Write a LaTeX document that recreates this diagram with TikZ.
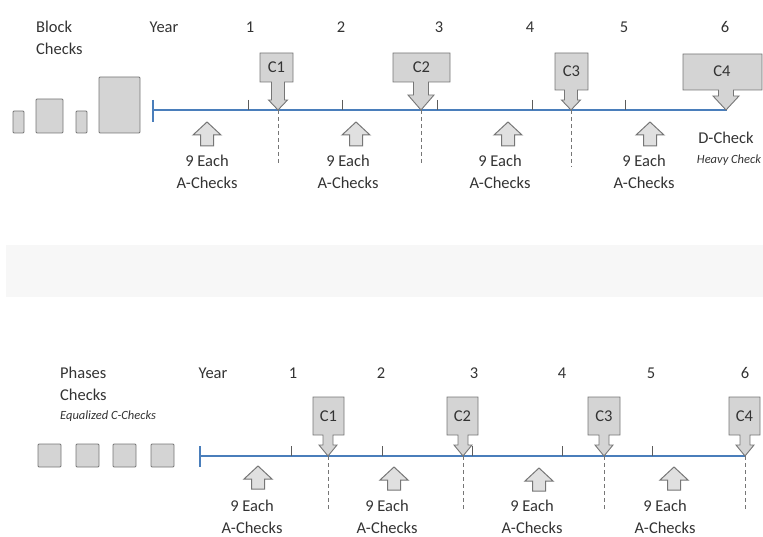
\documentclass[tikz,border=0pt]{standalone}
\usepackage{fontspec}
\setmainfont{Carlito}
\definecolor{tl}{HTML}{4A7EBB}
\definecolor{bfill}{HTML}{D4D4D4}
\definecolor{bdraw}{HTML}{767676}
\definecolor{afill}{HTML}{E0E0E0}
\definecolor{txt}{HTML}{333333}
\definecolor{band}{HTML}{F7F7F7}
\tikzset{
  lbl/.style={inner sep=0pt, anchor=base, text=txt, font=\fontsize{16.5}{19}\selectfont},
  lblw/.style={lbl, anchor=base west},
  small/.style={inner sep=0pt, anchor=base, text=txt, font=\fontsize{12.5}{15}\selectfont\itshape},
  blk/.style={fill=bfill, draw=bdraw, line width=0.9pt, rounded corners=1pt},
  callout/.style={fill=bfill, draw=bdraw, line width=0.9pt, line join=miter},
  uparrow/.style={fill=afill, draw=bdraw, line width=1pt},
  tline/.style={draw=tl, line width=2.4pt},
  tline2/.style={draw=tl, line width=1.9pt},
  ticks/.style={draw=txt!80, line width=1pt},
  vdash/.style={draw=bdraw, line width=0.9pt, dash pattern=on 4pt off 3pt},
}
% #1 left #2 right #3 top #4 bottom #5 tipx #6 tipy #7 shaft half #8 head half #9 head height
\newcommand\calloutpath[9]{%
  \path[callout] (#1,#3) -- (#2,#3) -- (#2,#4) -- ({#5+#7},#4) -- ({#5+#7},{#6-#9})
    -- ({#5+#8},{#6-#9}) -- (#5,#6) -- ({#5-#8},{#6-#9}) -- ({#5-#7},{#6-#9})
    -- ({#5-#7},#4) -- (#1,#4) -- cycle;}
% #1 cx #2 top #3 bottom
\newcommand\uparr[3]{%
  \path[uparrow] (#1,#2) -- ({#1+14},{#2+13}) -- ({#1+6.5},{#2+13}) -- ({#1+6.5},#3)
    -- ({#1-6.5},#3) -- ({#1-6.5},{#2+13}) -- ({#1-14},{#2+13}) -- cycle;}
\begin{document}
\begin{tikzpicture}[x=1pt,y=-1pt]
\useasboundingbox (0,0) rectangle (763,537);
% faint band
\fill[band] (6,245) rectangle (763,297);

%================ TOP ================
\node[lblw] (bc1) at (36,33) {Block};
\node[lblw] (bc2) at (36,55) {Checks};
\node[lbl] (yr1) at (164,33) {Year};
\foreach \x/\n in {250/1,341/2,439/3,530/4,624/5,725/6}
  \node[lbl] (ty\n) at (\x,33) {\n};

% blocks
\draw[blk] (13,111) rectangle (24,133);
\draw[blk] (36,99) rectangle (63,133);
\draw[blk] (76,111) rectangle (87,133);
\draw[blk] (99,77) rectangle (140,133);

% timeline
\coordinate (ts) at (153,110);
\coordinate (te) at (727,110);
\draw[tline] (ts) -- (te);
\draw[tl, line width=1.6pt] (153,100) -- (153,122);
\foreach \x in {248,342,437,532,625}
  \draw[ticks] (\x,100) -- (\x,110);

% callouts
\calloutpath{260}{293}{53}{82}{278}{110}{6.5}{9.5}{10}
\calloutpath{393}{450}{53}{82}{421}{110}{7.5}{13}{15}
\calloutpath{555}{588}{53}{90}{571}{110}{6.5}{9.5}{10}
\calloutpath{683}{762}{54}{90}{726}{110}{7.5}{13}{14}
\node[lbl] (tc1) at (276.5,73) {C1};
\node[lbl] (tc2) at (421.5,73) {C2};
\node[lbl] (tc3) at (571.5,77) {C3};
\node[lbl] (tc4) at (722,77) {C4};

\coordinate (tp1) at (278,110); \coordinate (tq1) at (278,165);
\coordinate (tp2) at (421,110); \coordinate (tq2) at (421,165);
\coordinate (tp3) at (571,110); \coordinate (tq3) at (571,167);
\draw[vdash] (tp1) -- (tq1);
\draw[vdash] (tp2) -- (tq2);
\draw[vdash] (tp3) -- (tq3);

% up arrows and texts
\uparr{207}{122}{146}
\uparr{356}{122}{146}
\uparr{508}{122}{146}
\uparr{650}{122}{146}
\foreach \x [count=\i] in {207,348,500,644}{
  \node[lbl] (tea\i) at (\x,167) {9 Each};
  \node[lbl] (tac\i) at (\x,189) {A-Checks};
}
\node[lbl] (dchk) at (726,144) {D-Check};
\node[small] (hvy) at (729,164) {Heavy Check};

%================ BOTTOM ================
\node[lblw] (ph1) at (60,378) {Phases};
\node[lblw] (ph2) at (60,400) {Checks};
\node[small, anchor=base west] (eq) at (60,419) {Equalized C-Checks};
\node[lbl] (yr2) at (213,378) {Year};
\foreach \x/\n in {293/1,381/2,474/3,562/4,651/5,745/6}
  \node[lbl] (by\n) at (\x,378) {\n};

\foreach \x in {38,76,113,151}
  \draw[blk] (\x,444) rectangle ({\x+23},467);

\coordinate (bs) at (200,456);
\coordinate (be) at (745,456);
\draw[tline2] (bs) -- (be);
\draw[tl, line width=1.4pt] (200,446) -- (200,467);
\foreach \x in {291,382,472,562,652}
  \draw[ticks] (\x,446) -- (\x,456);

\calloutpath{313}{344}{397}{435}{328}{456}{5}{9}{11}
\calloutpath{447}{478}{397}{435}{463}{456}{5}{9}{11}
\calloutpath{588}{620}{397}{435}{604}{456}{5}{9}{11}
\calloutpath{729}{760}{397}{435}{745}{456}{5}{9}{11}
\node[lbl] (bc1n) at (328.5,421) {C1};
\node[lbl] (bc2n) at (462.5,421) {C2};
\node[lbl] (bc3n) at (604,421) {C3};
\node[lbl] (bc4n) at (744.5,421) {C4};

\foreach \x [count=\i] in {328,463,604,745}{
  \coordinate (bp\i) at (\x,456);
  \coordinate (bq\i) at (\x,510);
  \draw[vdash] (bp\i) -- (bq\i);
}

\uparr{258}{466}{489}
\uparr{394}{467}{490}
\uparr{539}{468}{491}
\uparr{674}{467}{490}
\foreach \x [count=\i] in {252,387,532,665}{
  \node[lbl] (bea\i) at (\x,511) {9 Each};
  \node[lbl] (bac\i) at (\x,533) {A-Checks};
}
\end{tikzpicture}
\end{document}
